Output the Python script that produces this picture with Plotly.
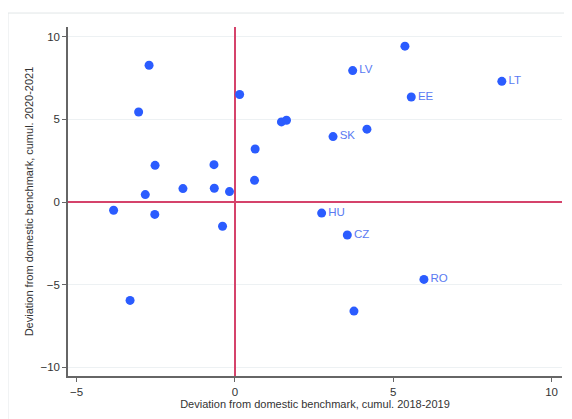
import plotly.graph_objects as go

x_vals = [-2.71, -3.04, -2.52, -2.83, -1.64, -0.66, -0.65, -0.17, 0.15, 0.64, 0.62, 1.47, 1.63,
          5.37, 3.72, 8.43, 5.57, 3.10, 4.17, -3.83, -2.53, -0.39, -3.31, 2.74, 3.55, 5.97, 3.76]
y_vals = [8.28, 5.45, 2.22, 0.45, 0.81, 2.26, 0.83, 0.63, 6.51, 3.21, 1.31, 4.85, 4.95,
          9.44, 7.96, 7.31, 6.36, 3.96, 4.41, -0.50, -0.75, -1.47, -5.96, -0.67, -2.00, -4.69, -6.61]
labels = ["", "", "", "", "", "", "", "", "", "", "", "", "",
          "", "LV", "LT", "EE", "SK", "", "", "", "", "", "HU", "CZ", "RO", ""]

x_ticks = [-5, 0, 5, 10]
y_ticks = [-10, -5, 0, 5, 10]

fig = go.Figure()
fig.add_trace(go.Scatter(
    x=x_vals, y=y_vals, mode="markers+text", text=labels,
    textposition="middle right",
    textfont=dict(family="Liberation Sans, Arial", size=11.5, color="#5a7af2"),
    marker=dict(size=9, color="#2b5cff", line=dict(width=0)),
    cliponaxis=False, showlegend=False,
))

red = "#d5436b"
# outer frame
fig.add_shape(type="rect", xref="paper", yref="paper", x0=-0.1215, x1=1.1, y0=-0.3, y1=1.04,
              line=dict(color="#e2e6e7", width=1), fillcolor="rgba(0,0,0,0)", layer="below")

fig.update_layout(
    width=572, height=419,
    margin=dict(l=60, r=18, t=19, b=51),
    paper_bgcolor="white", plot_bgcolor="white",
    font=dict(family="Liberation Sans, Arial", size=11, color="#333333"),
    xaxis=dict(range=[-5.27, 10.33], tickvals=x_ticks, showgrid=False,
               zeroline=True, zerolinecolor=red, zerolinewidth=2,
               showline=True, linecolor="#666666", linewidth=1.5, ticks="outside",
               ticklen=4, tickcolor="#666666", tickfont=dict(size=11.5),
               title=dict(text="Deviation from domestic benchmark, cumul. 2018-2019",
                          standoff=2, font=dict(size=11))),
    yaxis=dict(range=[-10.54, 10.60], tickvals=y_ticks, showgrid=True, gridcolor="#edf1f3",
               zeroline=True, zerolinecolor=red, zerolinewidth=2,
               showline=True, linecolor="#666666", linewidth=1.5,
               ticks="outside", ticklen=4, tickcolor="#666666", tickfont=dict(size=11.5),
               title=dict(text="Deviation from domestic benchmark, cumul. 2020-2021",
                          standoff=5, font=dict(size=11))),
)

fig.write_html("out.html")
